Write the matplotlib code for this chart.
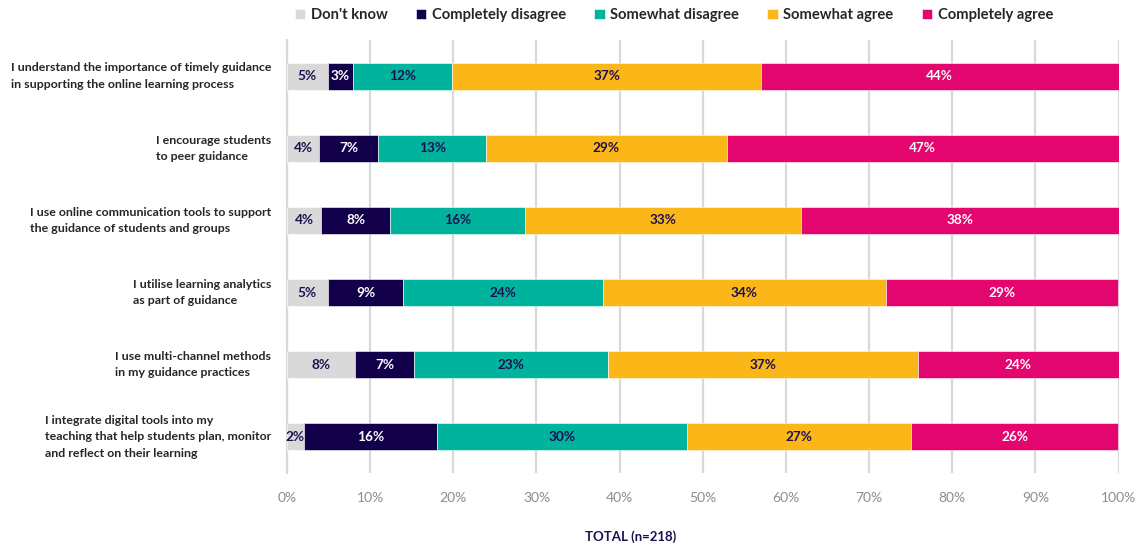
import matplotlib
matplotlib.use("Agg")
import matplotlib.pyplot as plt
import numpy as np

categories = [
    "I understand the importance of timely guidance\nin supporting the online learning process",
    "I encourage students\nto peer guidance",
    "I use online communication tools to support\nthe guidance of students and groups",
    "I utilise learning analytics\nas part of guidance",
    "I use multi-channel methods\nin my guidance practices",
    "I integrate digital tools into my\nteaching that help students plan, monitor\nand reflect on their learning",
]
series_names = ["Don't know", "Completely disagree", "Somewhat disagree", "Somewhat agree", "Completely agree"]

# segment shares (%) as drawn
dont_know = [4.9, 3.9, 4.1, 4.9, 8.2, 2.0]
completely_disagree = [3.0, 7.1, 8.3, 9.1, 7.1, 16.0]
somewhat_disagree = [12.0, 12.9, 16.2, 24.0, 23.3, 30.1]
somewhat_agree = [37.1, 29.0, 33.2, 34.0, 37.3, 27.0]
completely_agree = [43.0, 47.1, 38.2, 28.0, 24.1, 24.9]

# printed labels (%)
lbl_dont_know = [5, 4, 4, 5, 8, 2]
lbl_completely_disagree = [3, 7, 8, 9, 7, 16]
lbl_somewhat_disagree = [12, 13, 16, 24, 23, 30]
lbl_somewhat_agree = [37, 29, 33, 34, 37, 27]
lbl_completely_agree = [44, 47, 38, 29, 24, 26]

xticks = [0, 10, 20, 30, 40, 50, 60, 70, 80, 90, 100]
xlabel = "TOTAL (n=218)"

colors = ["#D9D9D9", "#12004A", "#00B39D", "#FBB617", "#E3066F"]
text_colors = ["#1B1050", "white", "#1B1050", "#1B1050", "white"]
NAVY = "#1B1050"

values = [dont_know, completely_disagree, somewhat_disagree, somewhat_agree, completely_agree]
labels = [lbl_dont_know, lbl_completely_disagree, lbl_somewhat_disagree, lbl_somewhat_agree, lbl_completely_agree]

W, H = 1143, 550
fig = plt.figure(figsize=(W / 100, H / 100), dpi=100)
ax = fig.add_axes([287 / W, 1 - 473 / H, (1118.5 - 287) / W, (473 - 40) / H])

data = np.array(values, dtype=float)
totals = data.sum(axis=0)
shares = data / totals * 100
y = np.arange(len(categories))
left = np.zeros(len(categories))
for i, name in enumerate(series_names):
    ax.barh(y, shares[i], left=left, height=0.375, color=colors[i], label=name,
            edgecolor="white", linewidth=0.4, zorder=3)
    for j in range(len(categories)):
        ax.text(left[j] + shares[i][j] / 2, y[j], f"{labels[i][j]}%", ha="center", va="center",
                fontsize=9.8, fontweight="bold", color=text_colors[i], family="Lato", zorder=4)
    left += shares[i]

ax.set_xlim(0, 100)
ax.set_ylim(len(categories) - 0.5, -0.5)
ax.set_xticks(xticks)
ax.set_xticklabels([f"{t}%" for t in xticks], fontsize=10, color="#8C8C8C", family="Lato")
ax.tick_params(axis="x", length=0, pad=14)
ax.set_yticks(y)
ax.set_yticklabels([])
ax.tick_params(axis="y", length=0)
for j, c in enumerate(categories):
    ax.text(-0.019, y[j], c, transform=ax.get_yaxis_transform(), ha="right", va="center",
            multialignment="left", fontsize=8.9, fontweight="bold", color="#262626",
            family="Lato", linespacing=1.6)
ax.grid(axis="x", color="#D9D9D9", linewidth=1.6, zorder=0)
for s in ["top", "right", "bottom"]:
    ax.spines[s].set_visible(False)
ax.spines["left"].set_color("#D9D9D9")
ax.spines["left"].set_linewidth(1.6)

fig.legend(loc="center", bbox_to_anchor=(674 / W, 1 - 15 / H), ncol=5, frameon=False,
           prop={"family": "Lato", "size": 10.6, "weight": "bold"}, handlelength=0.7,
           handleheight=0.7, columnspacing=1.9, handletextpad=0.4, labelcolor="#262626")

fig.text(631 / W, 1 - 537 / H, xlabel, ha="center", va="center", fontsize=9.5,
         fontweight="bold", color=NAVY, family="Lato")

fig.savefig("out.png", dpi=100)
